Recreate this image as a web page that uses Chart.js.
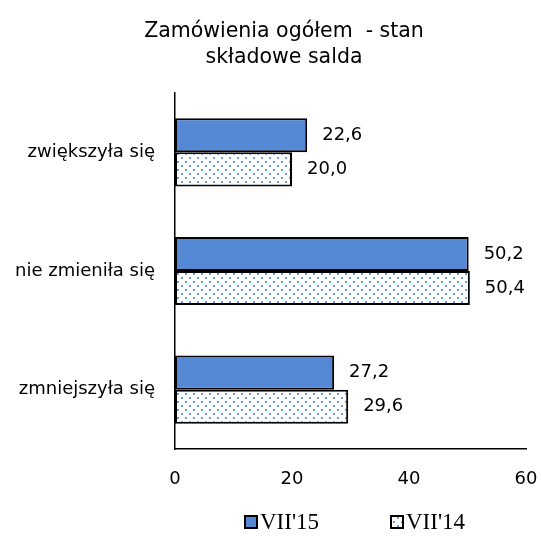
<!DOCTYPE html>
<html>
<head>
<meta charset="utf-8">
<script src="https://cdn.jsdelivr.net/npm/chart.js@4"></script>
<style>
  html, body { margin: 0; padding: 0; background: #fff; }
  #wrap { width: 541px; height: 537px; }
</style>
</head>
<body>
<div id="wrap"><canvas id="myGraph" width="541" height="537"></canvas></div>
<script>
// chart data
const categories = ["zwiększyła się", "nie zmieniła się", "zmniejszyła się"];
const seriesNames = ["VII'15", "VII'14"];
const values15 = [22.6, 50.2, 27.2];
const values14 = [20.0, 50.4, 29.6];
const titleLines = ["Zamówienia ogółem  - stan", "składowe salda"];

const FONT = "Tahoma, 'DejaVu Sans', sans-serif";
const LEGEND_FONT = "'Liberation Serif', 'Times New Roman', serif";

// dotted fill for the second series
function makeDots() {
    const c = document.createElement("canvas");
    c.width = 8;
    c.height = 8;
    const g = c.getContext("2d");
    g.fillStyle = "#ffffff";
    g.fillRect(0, 0, 8, 8);
    g.fillStyle = "#6f9ee0";
    g.fillRect(1, 1, 2, 2);
    g.fillRect(5, 5, 2, 2);
    return g.createPattern(c, "repeat");
}

const ctx = document.getElementById("myGraph");
const dots = makeDots();

// title, legend and value labels drawn by hand
const extras = {
    id: "extras",
    afterDatasetsDraw(chart) {
        const g = chart.ctx;
        g.save();
        g.fillStyle = "#000";

        // values at bar ends
        g.font = "18px " + FONT;
        g.textAlign = "left";
        g.textBaseline = "middle";
        chart.data.datasets.forEach((ds, i) => {
            chart.getDatasetMeta(i).data.forEach((bar, j) => {
                g.fillText(ds.data[j].toFixed(1).replace(".", ","), bar.x + 15, bar.y);
            });
        });

        // title
        g.font = "20.5px " + FONT;
        g.textAlign = "center";
        g.fillText(titleLines[0], 284, 32);
        g.fillText(titleLines[1], 284, 58);

        // legend
        g.font = "23px " + LEGEND_FONT;
        g.textAlign = "left";
        const legX = [245, 391];
        chart.data.datasets.forEach((ds, i) => {
            g.fillStyle = ds.backgroundColor;
            g.fillRect(legX[i], 516, 12, 12);
            g.strokeStyle = "#000";
            g.lineWidth = 2;
            g.strokeRect(legX[i], 516, 12, 12);
            g.fillStyle = "#000";
            g.fillText(ds.label, legX[i] + 15, 523);
        });
        g.restore();
    }
};

let myChart = new Chart(ctx, {
    type: "bar",
    data: {
        labels: categories,
        datasets: [{
            label: seriesNames[0],
            data: values15,
            backgroundColor: "#5588d4",
            borderColor: "#000",
            borderWidth: 2,
            borderSkipped: false
        }, {
            label: seriesNames[1],
            data: values14,
            backgroundColor: dots,
            borderColor: "#000",
            borderWidth: 2,
            borderSkipped: false
        }]
    },
    options: {
        responsive: false,
        animation: false,
        indexAxis: "y",
        categoryPercentage: 0.575,
        barPercentage: 1.0,
        layout: { padding: { left: 0, right: 0, top: 93, bottom: 0 } },
        scales: {
            x: {
                min: 0,
                max: 60,
                ticks: { stepSize: 20, color: "#000", font: { family: FONT, size: 18 }, padding: 12 },
                grid: { display: false },
                border: { display: true, color: "#000", width: 1.5 },
                afterFit: s => { s.height = 88; s.paddingLeft = 0; s.paddingRight = 15; }
            },
            y: {
                ticks: { color: "#000", font: { family: FONT, size: 18 }, padding: 12 },
                grid: { display: false },
                border: { display: true, color: "#000", width: 1.5 },
                afterFit: s => { s.width = 175; s.paddingTop = 0; s.paddingBottom = 0; }
            }
        },
        plugins: {
            title: { display: false },
            legend: { display: false },
            tooltip: { enabled: false }
        }
    },
    plugins: [extras]
});
</script>
</body>
</html>
